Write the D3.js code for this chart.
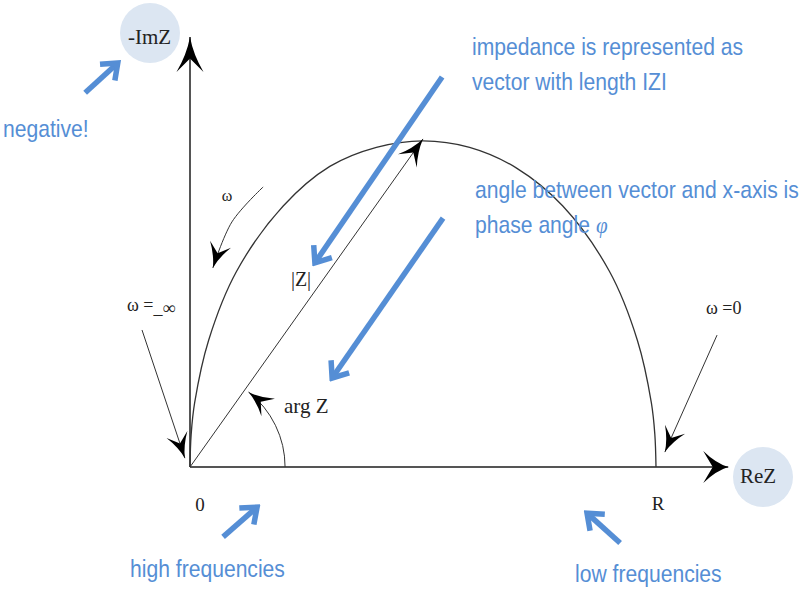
<!DOCTYPE html>
<html>
<head>
<meta charset="utf-8">
<script src="https://cdn.jsdelivr.net/npm/d3@7"></script>
<style>
  body { margin: 0; background: #fff; }
  svg { display: block; }
</style>
</head>
<body>
<div id="chart"></div>
<script>
// semicircle (Nyquist curve), R = 100
const arcRe = [0, 0.25, 1, 4, 10, 20, 30, 40, 50, 60, 70, 80, 90, 96, 99, 99.75, 100];
const arcIm = [0, 7, 13.8, 27.2, 42, 56, 64.5, 68.6, 70, 68.6, 64.2, 56, 42, 27.2, 13.8, 7, 0];

// |Z| vector tip and axis ends
const vecZ = [50, 70.4];
const axisEnds = { re: 115.5, im: 92.3 };
const argRadius = 20.4;
const argAngle = 52; // degrees

// black annotation arrows [x1, y1, x2, y2]
const omegaInfArrow = [-10.3, 29.4, -1.1, 1.9];
const omegaZeroArrow = [113.1, 28.3, 101.9, 3.2];
const omegaCurveRe = [15.7, 9.0, 4.9];
const omegaCurveIm = [60.1, 52.6, 42.7];

// blue callout arrows [x1, y1, x2, y2]
const blueArrows = [
  [-22.5, 80.3, -15.5, 86.7],
  [54.1, 83.7, 26.8, 43.8],
  [54.3, 53.4, 30.5, 19.1],
  [7.1, -15.0, 14.4, -8.6],
  [92.3, -16.3, 85.2, -9.9]
];

const blueNotes = [
  { text: "impedance is represented as", x: 472, y: 55 },
  { text: "vector with length IZI", x: 472, y: 90 },
  { text: "angle between vector and x-axis is", x: 475, y: 198 },
  { text: "negative!", x: 3, y: 137 },
  { text: "high frequencies", x: 130, y: 577 },
  { text: "low frequencies", x: 575, y: 582 }
];

const width = 801, height = 590;
const blue = "#558ed5";
const ink = "#333";
const squeeze = 0.88;

const svg = d3.select("#chart").append("svg")
  .attr("width", width)
  .attr("height", height);

const x = d3.scaleLinear().domain([0, 100]).range([190, 656]);
const y = d3.scaleLinear().domain([0, 100]).range([467, 1]);

const defs = svg.append("defs");

// concave "stealth" arrowhead, tip at 0,0
function stealth(id, L, W, color) {
  defs.append("marker")
    .attr("id", id)
    .attr("markerUnits", "userSpaceOnUse")
    .attr("viewBox", `${-L - 2} ${-W / 2 - 2} ${L + 4} ${W + 4}`)
    .attr("markerWidth", L + 4)
    .attr("markerHeight", W + 4)
    .attr("refX", 0)
    .attr("refY", 0)
    .attr("orient", "auto")
    .append("path")
    .attr("d", `M0,0 Q${-L * 0.5},${-W * 0.12} ${-L},${-W / 2} L${-L * 0.62},0 L${-L},${W / 2} Q${-L * 0.5},${W * 0.12} 0,0 Z`)
    .attr("fill", color);
}
stealth("headY", 35, 27, "#000");
stealth("headX", 25, 32, "#000");
stealth("headZ", 27, 23, "#000");
stealth("headS", 25, 22, "#000");

defs.append("marker")
  .attr("id", "headBlue")
  .attr("markerUnits", "userSpaceOnUse")
  .attr("viewBox", "-20 -16 24 32")
  .attr("markerWidth", 24)
  .attr("markerHeight", 32)
  .attr("refX", 0)
  .attr("refY", 0)
  .attr("orient", "auto")
  .append("path")
  .attr("d", "M-14,-11 L0,0 L-14,11")
  .attr("fill", "none")
  .attr("stroke", blue)
  .attr("stroke-width", 5.5)
  .attr("stroke-linejoin", "miter");

// light blue discs behind axis names
svg.append("circle").attr("cx", 150).attr("cy", 33).attr("r", 30).attr("fill", "#dce6f2");
svg.append("circle").attr("cx", 763).attr("cy", 477).attr("r", 30).attr("fill", "#dce6f2");

// axes
svg.append("line")
  .attr("x1", x(0)).attr("y1", y(0))
  .attr("x2", x(axisEnds.re)).attr("y2", y(0))
  .attr("stroke", "#555").attr("stroke-width", 2)
  .attr("marker-end", "url(#headX)");
svg.append("line")
  .attr("x1", x(0)).attr("y1", y(0))
  .attr("x2", x(0)).attr("y2", y(axisEnds.im))
  .attr("stroke", "#555").attr("stroke-width", 2)
  .attr("marker-end", "url(#headY)");

// Nyquist semicircle
const arcPts = arcRe.map((d, i) => [d, arcIm[i]]);
svg.append("path")
  .datum(arcPts)
  .attr("fill", "none")
  .attr("stroke", ink)
  .attr("stroke-width", 1.3)
  .attr("d", d3.line().x(d => x(d[0])).y(d => y(d[1])).curve(d3.curveCatmullRom.alpha(0.5)));

// |Z| vector
svg.append("line")
  .attr("x1", x(0)).attr("y1", y(0))
  .attr("x2", x(vecZ[0])).attr("y2", y(vecZ[1]))
  .attr("stroke", ink).attr("stroke-width", 1)
  .attr("marker-end", "url(#headZ)");

// arg Z angle arc
const rPx = x(argRadius) - x(0);
const p = d3.path();
p.arc(x(0), y(0), rPx, 0, -argAngle * Math.PI / 180, true);
svg.append("path")
  .attr("d", p.toString())
  .attr("fill", "none")
  .attr("stroke", ink).attr("stroke-width", 1)
  .attr("marker-end", "url(#headS)");

// omega arrows
[omegaInfArrow, omegaZeroArrow].forEach(a => {
  svg.append("line")
    .attr("x1", x(a[0])).attr("y1", y(a[1]))
    .attr("x2", x(a[2])).attr("y2", y(a[3]))
    .attr("stroke", ink).attr("stroke-width", 1)
    .attr("marker-end", "url(#headS)");
});
svg.append("path")
  .datum(omegaCurveRe.map((d, i) => [d, omegaCurveIm[i]]))
  .attr("fill", "none")
  .attr("stroke", ink).attr("stroke-width", 1)
  .attr("marker-end", "url(#headS)")
  .attr("d", d3.line().x(d => x(d[0])).y(d => y(d[1])).curve(d3.curveCatmullRom.alpha(0.5)));

// blue callout arrows
svg.selectAll("line.blue")
  .data(blueArrows)
  .join("line")
  .attr("class", "blue")
  .attr("x1", d => x(d[0])).attr("y1", d => y(d[1]))
  .attr("x2", d => x(d[2])).attr("y2", d => y(d[3]))
  .attr("stroke", blue).attr("stroke-width", 5.5)
  .attr("marker-end", "url(#headBlue)");

// serif labels
const serif = "'Liberation Serif', 'Times New Roman', serif";
function label(t, px, py, size, anchor) {
  return svg.append("text")
    .attr("x", px).attr("y", py)
    .attr("font-family", serif)
    .attr("font-size", size)
    .attr("text-anchor", anchor || "start")
    .attr("fill", "#222")
    .text(t);
}
label("-ImZ", 128, 44, 21);
label("ReZ", 740, 483, 21);
label("0", 200, 511, 19, "middle");
label("R", 658, 510, 19, "middle");
label("arg Z", 284, 413, 21);
label("|Z|", 301, 286, 20, "middle");
label("ω", 227, 201, 16, "middle");
const inf = label("ω =", 127, 311, 18);
inf.append("tspan").attr("dy", 3).text("_∞");
label("ω =0", 706, 314, 18);

// blue notes (horizontally condensed like the source image)
const sans = "'Liberation Sans', Arial, sans-serif";
svg.selectAll("text.note")
  .data(blueNotes)
  .join("text")
  .attr("class", "note")
  .attr("transform", d => `translate(${d.x},${d.y}) scale(${squeeze},1)`)
  .attr("font-family", sans)
  .attr("font-size", 24)
  .attr("fill", blue)
  .text(d => d.text);

const phase = svg.append("text")
  .attr("transform", `translate(475,233) scale(${squeeze},1)`)
  .attr("font-family", sans)
  .attr("font-size", 24)
  .attr("fill", blue)
  .text("phase angle ");
phase.append("tspan")
  .attr("font-family", serif)
  .attr("font-style", "italic")
  .text("φ");
</script>
</body>
</html>
